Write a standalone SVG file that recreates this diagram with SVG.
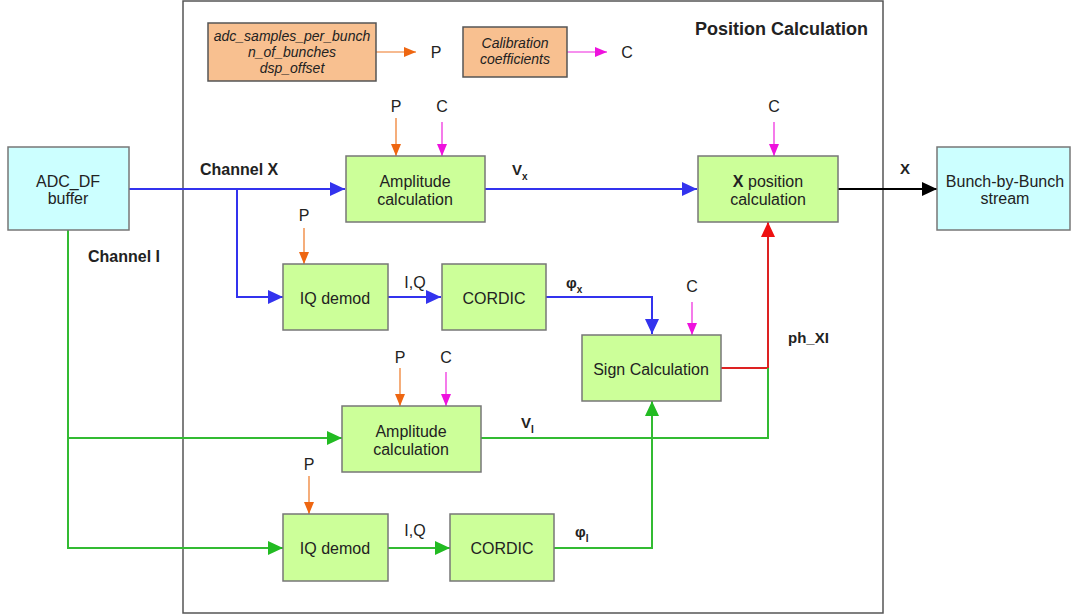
<svg xmlns="http://www.w3.org/2000/svg" width="1071" height="615" viewBox="0 0 1071 615">
<style>
text{font-family:"Liberation Sans",Arial,sans-serif;fill:#222}
.bx{fill:#ccff99;stroke:#777;stroke-width:1.5}
.cy{fill:#ccffff;stroke:#777;stroke-width:1.5}
.or{fill:#f8c090;stroke:#555;stroke-width:1.5}
.t{font-size:16px;text-anchor:middle}
.ti{font-size:14px;font-style:italic;text-anchor:middle}
.lb{font-size:16px;text-anchor:middle}
.bd{font-size:16px;font-weight:bold}
.sb{font-size:15px;font-weight:bold}
.sub{font-size:10px;font-weight:bold}
.blue{stroke:#3333ee;stroke-width:2;fill:none}
.green{stroke:#33bb33;stroke-width:2;fill:none}
.red{stroke:#dd2222;stroke-width:2;fill:none}
.blk{stroke:#000;stroke-width:2;fill:none}
.org{stroke:#ee7722;stroke-width:1.2;fill:none}
.mag{stroke:#ee22dd;stroke-width:1.2;fill:none}
</style>
<defs>
<marker id="aB" markerUnits="userSpaceOnUse" markerWidth="15" markerHeight="14" refX="15" refY="7" orient="auto"><path d="M0,0 L15,7 L0,14 z" fill="#3333ee"/></marker>
<marker id="aG" markerUnits="userSpaceOnUse" markerWidth="15" markerHeight="14" refX="15" refY="7" orient="auto"><path d="M0,0 L15,7 L0,14 z" fill="#22bb22"/></marker>
<marker id="aR" markerUnits="userSpaceOnUse" markerWidth="15" markerHeight="14" refX="15" refY="7" orient="auto"><path d="M0,0 L15,7 L0,14 z" fill="#ee1111"/></marker>
<marker id="aK" markerUnits="userSpaceOnUse" markerWidth="15" markerHeight="14" refX="15" refY="7" orient="auto"><path d="M0,0 L15,7 L0,14 z" fill="#000"/></marker>
<marker id="aO" markerUnits="userSpaceOnUse" markerWidth="12" markerHeight="10" refX="12" refY="5" orient="auto"><path d="M0,0 L12,5 L0,10 z" fill="#ee6611"/></marker>
<marker id="aM" markerUnits="userSpaceOnUse" markerWidth="12" markerHeight="10" refX="12" refY="5" orient="auto"><path d="M0,0 L12,5 L0,10 z" fill="#ee11dd"/></marker>
</defs>
<rect width="1071" height="615" fill="#fff"/>

<g id="frame">
<rect x="183" y="1" width="700" height="612" fill="none" stroke="#555" stroke-width="1.5"/>
<text x="868" y="35" style="font-size:18px;font-weight:bold;text-anchor:end">Position Calculation</text>
</g>

<g id="connectors">
<path class="org" d="M376,52 H416" marker-end="url(#aO)"/>
<path class="mag" d="M567,52 H607" marker-end="url(#aM)"/>
<path class="blue" d="M129,189 H345" marker-end="url(#aB)"/>
<path class="blue" d="M237,189 V297 H283" marker-end="url(#aB)"/>
<path class="blue" d="M485,189 H697" marker-end="url(#aB)"/>
<path class="blue" d="M388,297 H441" marker-end="url(#aB)"/>
<path class="blue" d="M546,297 H652 V334" marker-end="url(#aB)"/>
<path class="blk" d="M838,189 H937" marker-end="url(#aK)"/>
<path class="red" d="M721,368 H768 V222" marker-end="url(#aR)"/>
<path class="green" d="M68,230 V548 H283" marker-end="url(#aG)"/>
<path class="green" d="M68,438 H342" marker-end="url(#aG)"/>
<path class="green" d="M481,438 H768 V368"/>
<path class="green" d="M388,548 H450" marker-end="url(#aG)"/>
<path class="green" d="M554,548 H652 V401" marker-end="url(#aG)"/>
<path class="org" d="M396,118 V156" marker-end="url(#aO)"/>
<path class="mag" d="M442,122 V156" marker-end="url(#aM)"/>
<path class="mag" d="M774,122 V156" marker-end="url(#aM)"/>
<path class="org" d="M304,228 V264" marker-end="url(#aO)"/>
<path class="mag" d="M692,302 V335" marker-end="url(#aM)"/>
<path class="org" d="M400,368 V406" marker-end="url(#aO)"/>
<path class="mag" d="M446,372 V406" marker-end="url(#aM)"/>
<path class="org" d="M309,476 V514" marker-end="url(#aO)"/>
</g>

<g id="labels">
<text class="lb" x="436" y="58">P</text>
<text class="lb" x="627" y="58">C</text>
<text class="bd" x="200" y="175">Channel X</text>
<text class="bd" x="88" y="262">Channel I</text>
<text class="lb" x="396" y="112">P</text>
<text class="lb" x="442" y="112">C</text>
<text class="lb" x="774" y="112">C</text>
<text class="lb" x="304" y="221">P</text>
<text class="lb" x="692" y="292">C</text>
<text class="lb" x="400" y="363">P</text>
<text class="lb" x="446" y="363">C</text>
<text class="lb" x="309" y="470">P</text>
<text class="sb" x="512" y="175">V<tspan class="sub" dy="5">x</tspan></text>
<text class="sb" x="900" y="174">X</text>
<text class="lb" x="415" y="288">I,Q</text>
<text class="lb" x="415" y="536">I,Q</text>
<text class="sb" x="566" y="288">φ<tspan class="sub" dy="5">x</tspan></text>
<text class="sb" x="788" y="343">ph_XI</text>
<text class="sb" x="521" y="428">V<tspan class="sub" dy="5">I</tspan></text>
<text class="sb" x="575" y="537">φ<tspan class="sub" dy="5">I</tspan></text>
</g>

<g id="params">
<rect class="or" x="208" y="23" width="168" height="58"/>
<text class="ti" x="292" y="41">adc_samples_per_bunch</text>
<text class="ti" x="292" y="57">n_of_bunches</text>
<text class="ti" x="292" y="73">dsp_offset</text>
</g>
<g id="calib">
<rect class="or" x="463" y="27" width="104" height="50"/>
<text class="ti" x="515" y="48">Calibration</text>
<text class="ti" x="515" y="64">coefficients</text>
</g>
<g id="adc">
<rect class="cy" x="8" y="147" width="121" height="83"/>
<text class="t" x="68" y="187">ADC_DF</text>
<text class="t" x="68" y="204">buffer</text>
</g>
<g id="bbb">
<rect class="cy" x="937" y="147" width="133" height="83"/>
<text class="t" x="1005" y="187">Bunch-by-Bunch</text>
<text class="t" x="1005" y="204">stream</text>
</g>
<g id="ampX">
<rect class="bx" x="346" y="156" width="139" height="66"/>
<text class="t" x="415" y="187">Amplitude</text>
<text class="t" x="415" y="205">calculation</text>
</g>
<g id="xpos">
<rect class="bx" x="698" y="156" width="140" height="66"/>
<text class="t" x="768" y="187"><tspan font-weight="bold">X</tspan> position</text>
<text class="t" x="768" y="205">calculation</text>
</g>
<g id="iqX">
<rect class="bx" x="283" y="264" width="105" height="66"/>
<text class="t" x="335" y="304">IQ demod</text>
</g>
<g id="cordicX">
<rect class="bx" x="442" y="264" width="104" height="66"/>
<text class="t" x="494" y="304">CORDIC</text>
</g>
<g id="sign">
<rect class="bx" x="582" y="335" width="139" height="66"/>
<text class="t" x="651" y="375">Sign Calculation</text>
</g>
<g id="ampI">
<rect class="bx" x="342" y="406" width="139" height="66"/>
<text class="t" x="411" y="437">Amplitude</text>
<text class="t" x="411" y="455">calculation</text>
</g>
<g id="iqI">
<rect class="bx" x="283" y="514" width="105" height="67"/>
<text class="t" x="335" y="554">IQ demod</text>
</g>
<g id="cordicI">
<rect class="bx" x="450" y="514" width="104" height="67"/>
<text class="t" x="502" y="554">CORDIC</text>
</g>
</svg>
